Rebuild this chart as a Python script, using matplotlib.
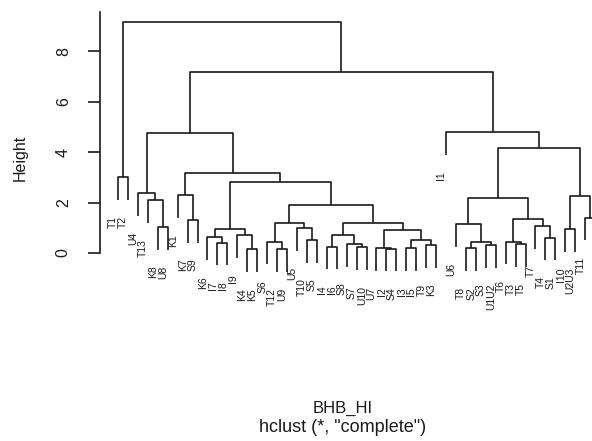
import matplotlib
matplotlib.use("Agg")
import matplotlib.pyplot as plt

plt.rcParams['font.family'] = ['Liberation Sans', 'DejaVu Sans']

# leaves in the order they appear along the x axis (last one falls off the right edge)
leaf_labels = ["T1", "T2", "U4", "T13", "K8", "U8", "K1", "K7", "S9", "K6",
               "I7", "I8", "I9", "K4", "K5", "S6", "T12", "U9", "U5", "T10",
               "S5", "I4", "I6", "S8", "S7", "U10", "U7", "I2", "S4", "I3",
               "I5", "T9", "K3", "I1", "U6", "T8", "S2", "S3", "U1U2", "T6",
               "T3", "T5", "T7", "T4", "S1", "I10", "U2U3", "T11", "K2"]

# merges: (left, right, height); str = leaf, int = earlier merge row
merges = [
    ("K4", "K5", 0.15),      # 0
    ("T12", "U9", 0.15),     # 1
    ("I3", "I5", 0.19),      # 2
    ("T8", "S2", 0.19),      # 3
    ("I2", "S4", 0.17),      # 4
    ("U7", 4, 0.19),         # 5
    ("I4", "I6", 0.25),      # 6
    ("S7", "U10", 0.22),     # 7
    ("S8", 7, 0.36),         # 8
    ("T9", "K3", 0.32),      # 9
    ("S3", "U1U2", 0.32),    # 10
    ("T3", "T5", 0.36),      # 11
    ("I7", "I8", 0.41),      # 12
    ("S6", 1, 0.45),         # 13
    (3, 10, 0.45),           # 14
    ("T6", 11, 0.45),        # 15
    ("T10", "S5", 0.52),     # 16
    (2, 9, 0.52),            # 17
    ("K6", 12, 0.62),        # 18
    ("T4", "S1", 0.61),      # 19
    (6, 8, 0.71),            # 20
    ("I9", 0, 0.71),         # 21
    (5, 17, 0.91),           # 22
    ("I10", "U2U3", 0.95),   # 23
    (18, 21, 0.95),          # 24
    ("U5", 16, 0.98),        # 25
    ("K8", "U8", 1.04),      # 26
    ("T7", 19, 1.07),        # 27
    ("U6", 14, 1.14),        # 28
    (13, 25, 1.18),          # 29
    (20, 22, 1.20),          # 30
    ("K7", "S9", 1.31),      # 31
    (15, 27, 1.34),          # 32
    ("T11", "K2", 1.40),     # 33
    (29, 30, 1.90),          # 34
    ("T13", 26, 2.10),       # 35
    (28, 32, 2.20),          # 36
    (23, 33, 2.28),          # 37
    ("K1", 31, 2.30),        # 38
    ("U4", 35, 2.38),        # 39
    (24, 34, 2.80),          # 40
    ("T1", "T2", 3.00),      # 41
    (38, 40, 3.17),          # 42
    (36, 37, 4.16),          # 43
    (39, 42, 4.76),          # 44
    ("I1", 43, 4.80),        # 45
    (44, 45, 7.18),          # 46
    (41, 46, 9.18),          # 47
]

heights = [m[2] for m in merges]
hang = 0.1 * (max(heights) - min(heights))

leaf_x = {lab: i + 1 for i, lab in enumerate(leaf_labels)}
node_x = []
leaf_bottom = {}

fig = plt.figure(figsize=(5.92, 4.41), dpi=100)
ax = fig.add_axes([100 / 592, 0, 492 / 592, 1])

px = 9.94  # pixels per leaf
ax.set_xlim(1 + (100 - 118) / px, 1 + (592 - 118) / px)
ax.set_ylim((253 - 441) / 25.2, 253 / 25.2)

line_kw = dict(color="#1a1a1a", lw=1.2, solid_capstyle="butt")

for left, right, h in merges:
    xs, tops = [], []
    for child in (left, right):
        if isinstance(child, str):
            xs.append(leaf_x[child])
            tops.append(h - hang)
            leaf_bottom[child] = h - hang
        else:
            xs.append(node_x[child])
            tops.append(merges[child][2])
    ax.plot([xs[0], xs[0], xs[1], xs[1]], [tops[0], h, h, tops[1]], **line_kw)
    node_x.append((xs[0] + xs[1]) / 2)

for lab in leaf_labels:
    ax.annotate(lab, (leaf_x[lab], leaf_bottom[lab]), xytext=(-3.4, -11.5),
                textcoords="offset points", rotation=90, ha="center", va="top",
                fontsize=7.5, color="#1a1a1a")

for s in ("top", "right", "bottom"):
    ax.spines[s].set_visible(False)
ax.spines["left"].set_bounds(0, 9.55)
ax.spines["left"].set_linewidth(1.2)
ax.spines["left"].set_color("#1a1a1a")
ax.set_xticks([])
ax.set_yticks([0, 2, 4, 6, 8])
ax.set_yticklabels(["0", "2", "4", "6", "8"], rotation=90, va="center")
ax.tick_params(axis="y", length=9, width=1.2, pad=12, labelsize=11.5,
               colors="#1a1a1a")

fig.text(20 / 592, 1 - 158 / 441, "Height", rotation=90, ha="center",
         va="center", fontsize=11.5, color="#1a1a1a")
fig.text(343 / 592, 1 - 408 / 441, "BHB_HI", ha="center", va="center",
         fontsize=12, color="#1a1a1a")
fig.text(343 / 592, 1 - 427 / 441, 'hclust (*, "complete")', ha="center",
         va="center", fontsize=13, color="#1a1a1a")

fig.savefig("out.png", dpi=100)
